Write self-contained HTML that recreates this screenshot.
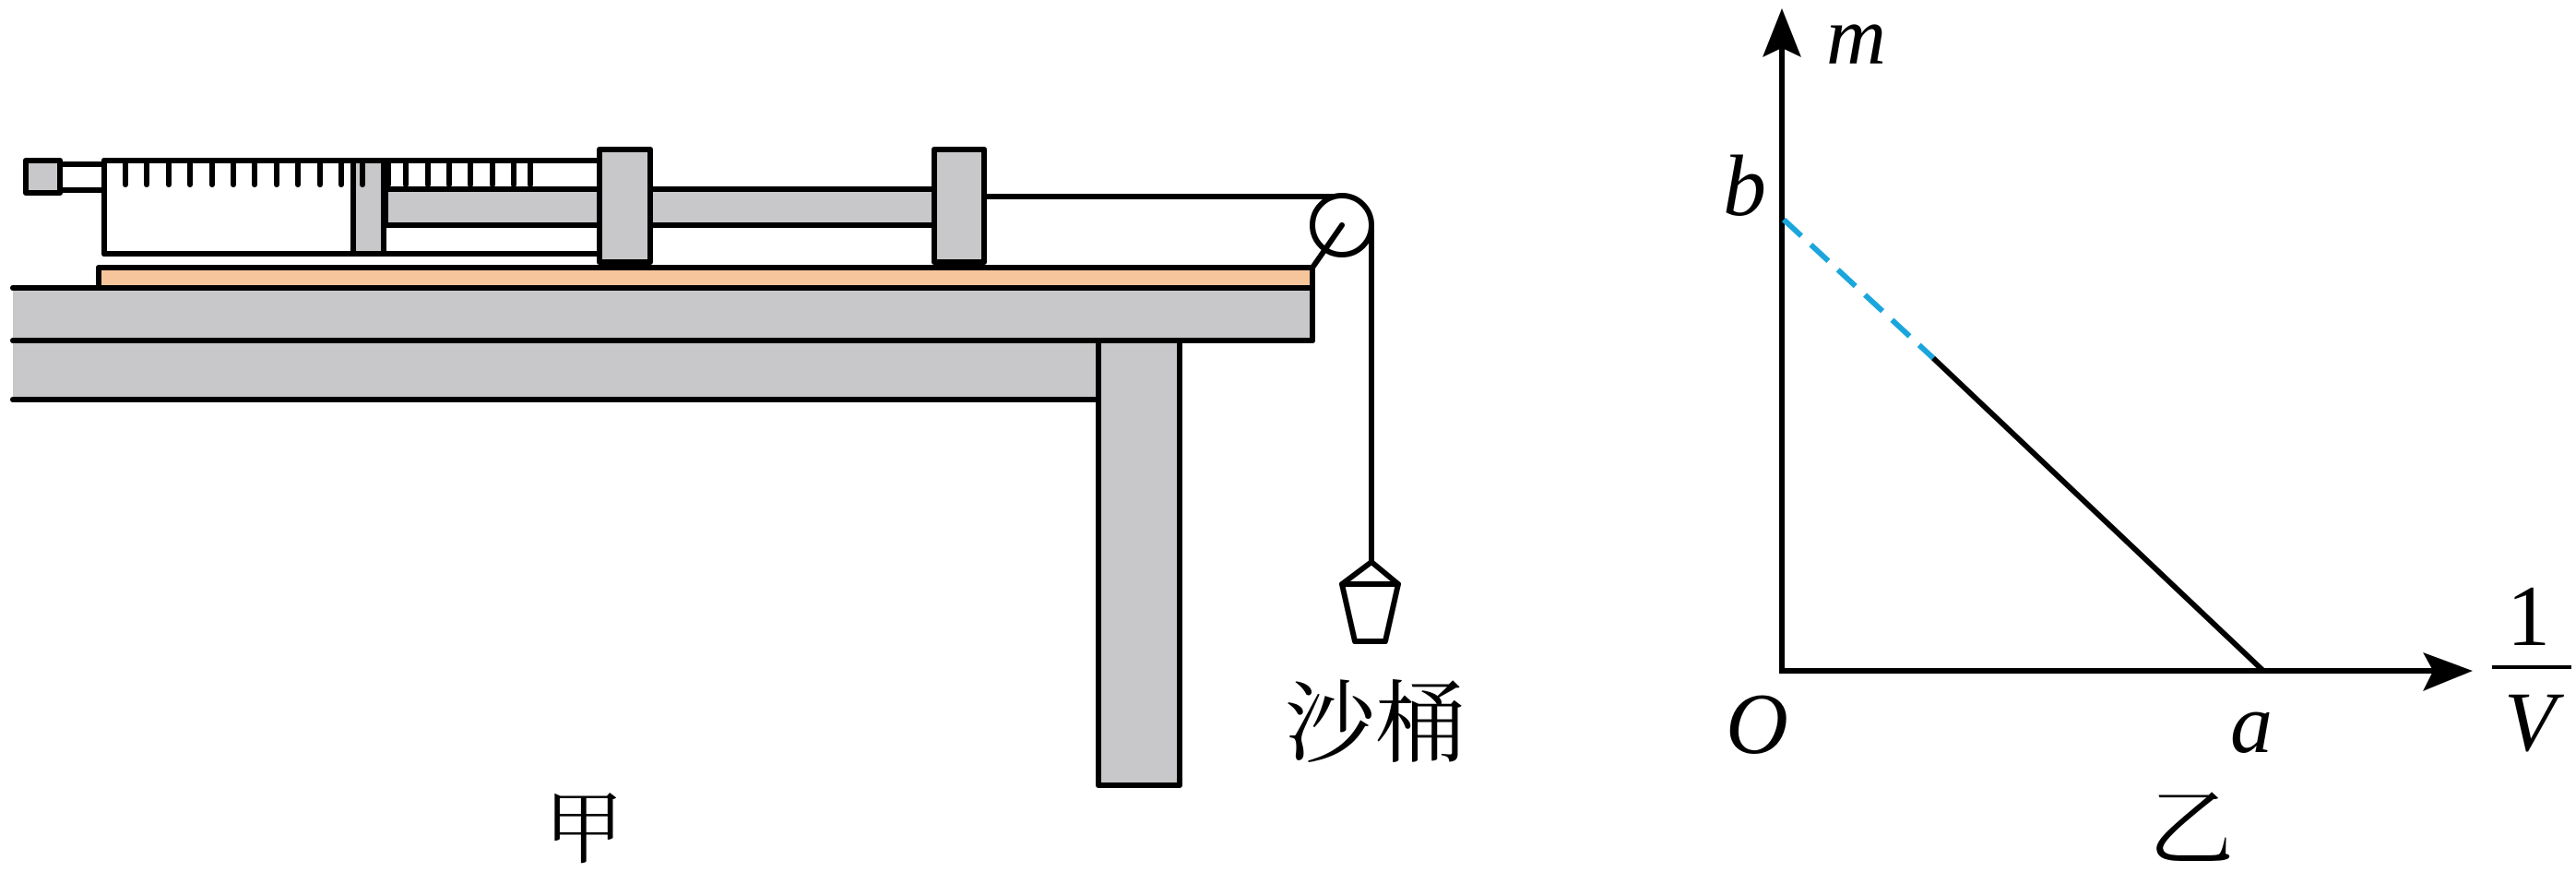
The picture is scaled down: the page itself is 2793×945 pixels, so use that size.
<!DOCTYPE html>
<html><head><meta charset="utf-8"><style>
html,body{margin:0;padding:0;background:#fff;}
svg{display:block;}
</style></head><body>
<svg width="2793" height="945" viewBox="0 0 2793 945" xmlns="http://www.w3.org/2000/svg">
<g stroke="#000" stroke-width="6" fill="none" stroke-linecap="round" stroke-linejoin="round">
  <rect x="14" y="312" width="1409" height="57" fill="#c8c8ca" stroke="none"/>
  <rect x="14" y="369" width="1177" height="64" fill="#c8c8ca" stroke="none"/>
  <line x1="14" y1="312" x2="1423" y2="312"/>
  <line x1="14" y1="369" x2="1423" y2="369"/>
  <line x1="14" y1="433" x2="1191" y2="433"/>
  <line x1="1423" y1="290" x2="1423" y2="369"/>
  <rect x="1191" y="369" width="88" height="482" fill="#c8c8ca"/>
  <rect x="107" y="290" width="1316" height="22" fill="#f7c59c"/>
  <rect x="418" y="205" width="595" height="39" fill="#c8c8ca"/>
  <line x1="113" y1="174" x2="650" y2="174"/>
  <line x1="113" y1="275" x2="650" y2="275"/>
  <line x1="113" y1="174" x2="113" y2="275"/>
  <rect x="383" y="174" width="33" height="101" fill="#c8c8ca"/>
  <line x1="65" y1="178" x2="113" y2="178"/>
  <line x1="65" y1="206" x2="113" y2="206"/>
  <rect x="28" y="174" width="37" height="35" fill="#c8c8ca"/>
  <path d="M136 174v26M159 174v26M183 174v26M206 174v26M230 174v26M253 174v26M276 174v26M300 174v26M323 174v26M347 174v26M370 174v26M393 174v26M421 174v26M440 174v26M464 174v26M487 174v26M510 174v26M534 174v26M557 174v26M575 174v26"/>
  <rect x="650" y="162" width="55" height="122" fill="#c8c8ca"/>
  <rect x="1013" y="162" width="54" height="122" fill="#c8c8ca"/>
  <line x1="1067" y1="213" x2="1455" y2="213"/>
  <circle cx="1455" cy="244" r="32" fill="#fff"/>
  <line x1="1455" y1="244" x2="1423" y2="290"/>
  <line x1="1487" y1="244" x2="1487" y2="609"/>
  <path d="M1487 609 L1455 633 L1516 633 Z" fill="#fff"/>
  <path d="M1455 633 L1516 633 L1502 695 L1469 695 Z" fill="#fff"/>
</g>
<text x="1393" y="818" font-family="'Liberation Serif','Noto Serif CJK SC',serif" font-size="98">沙桶</text>
<text x="590" y="928" font-family="'Liberation Serif','Noto Serif CJK SC',serif" font-size="86">甲</text>

<g stroke="#000" stroke-width="6" fill="none">
  <line x1="1932" y1="40" x2="1932" y2="727"/>
  <line x1="1929" y1="727" x2="2655" y2="727"/>
  <line x1="2096" y1="388" x2="2454" y2="727"/>
</g>
<line x1="1934" y1="238" x2="2096" y2="388" stroke="#1aa6dc" stroke-width="6" stroke-dasharray="26,14"/>
<path d="M1932 9 L1953 62 L1932 52 L1911 62 Z" fill="#000"/>
<path d="M2681 727 L2627 707 L2638 727 L2627 749 Z" fill="#000"/>
<g font-family="'Liberation Serif',serif" font-style="italic" fill="#000">
  <text x="1980" y="69" font-size="90">m</text>
  <text x="1868" y="233" font-size="94">b</text>
  <text x="1871" y="816" font-size="94">O</text>
  <text x="2418" y="815" font-size="92">a</text>
  <text x="2715" y="813" font-size="92">V</text>
</g>
<text x="2718" y="699" font-family="'Liberation Serif',serif" font-size="94">1</text>
<line x1="2702" y1="723" x2="2788" y2="723" stroke="#000" stroke-width="4"/>
<text x="2330" y="930" font-family="'Liberation Serif','Noto Serif CJK SC',serif" font-size="92">乙</text>
</svg>
</body></html>
